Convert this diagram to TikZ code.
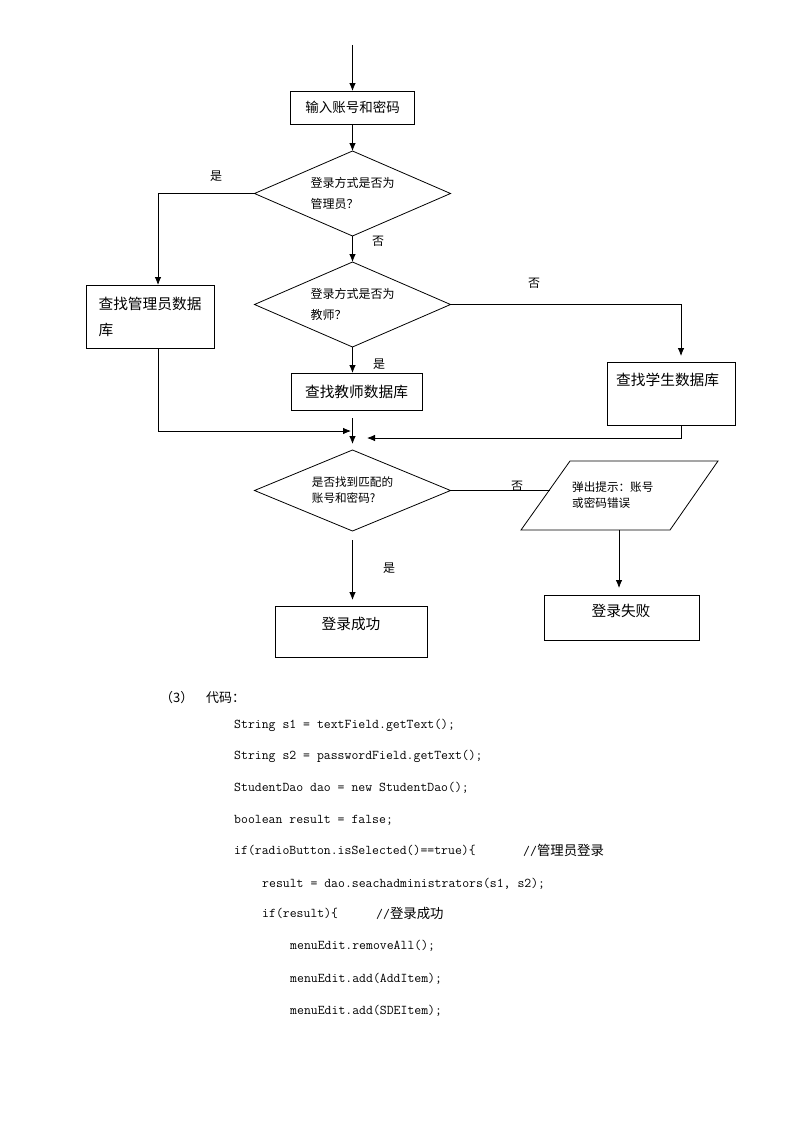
\documentclass[tikz,border=0pt]{standalone}
\usepackage{fontspec}
\newfontfamily\cjk{Noto Sans CJK SC}
\usetikzlibrary{shapes.geometric,arrows.meta}
\begin{document}
\begin{tikzpicture}[x=1pt,y=-1pt,
  line/.style={draw, line width=0.8pt},
  arr/.style={line, -{Latex[length=8pt,width=6.5pt]}},
  box/.style={draw, line width=0.8pt, rectangle, inner sep=0pt, outer sep=0pt},
  dia/.style={draw, line width=0.8pt, diamond, aspect=2.3, inner sep=0pt, outer sep=0pt, minimum width=196pt, minimum height=85pt, align=left},
  lbl/.style={font=\cjk\fontsize{12}{14}\selectfont, inner sep=0pt},
  big/.style={font=\cjk\fontsize{14.7}{26}\selectfont, inner sep=0pt},
  code/.style={anchor=west, inner sep=0pt, font=\ttfamily\fontsize{13.4}{16}\selectfont},
  cmt/.style={anchor=west, inner sep=0pt, font=\cjk\fontsize{13.4}{16}\selectfont},
]
\useasboundingbox[fill=white] (0,0) rectangle (800,1132);

% nodes
\coordinate (start) at (352.5,45);
\node[box, minimum width=124pt, minimum height=33pt, font=\cjk\fontsize{13.5}{16}\selectfont] (input) at (352.5,107.5) {输入账号和密码};
\node[dia, font=\cjk\fontsize{12}{21}\selectfont] (d1) at (352.5,193.5) {登录方式是否为\\管理员？};
\node[dia, font=\cjk\fontsize{12}{21}\selectfont] (d2) at (352.5,304.5) {登录方式是否为\\教师？};
\node[box, big, align=left, minimum width=128pt, minimum height=63pt] (admin) at (150,316.5) {查找管理员数据\\库};
\coordinate (adminTop) at (158,285);
\coordinate (adminBot) at (158,348);
\node[box, big, minimum width=131pt, minimum height=37pt] (teacher) at (356.5,391.5) {查找教师数据库};
\node[box, minimum width=128pt, minimum height=63pt] (student) at (671,393.5) {};
\coordinate (studentTop) at (681,362);
\coordinate (studentBot) at (681,425);
\node[big, anchor=west] (studenttxt) at (616,380) {查找学生数据库};
\coordinate (mL) at (351,431);
\coordinate (mR) at (367,438);
\node[dia, minimum height=81pt, font=\cjk\fontsize{11.6}{16}\selectfont] (d3) at (352.5,490.5) {是否找到匹配的\\账号和密码?};
\coordinate (p1) at (570,461);
\coordinate (p2) at (718,461);
\coordinate (p3) at (670,530);
\coordinate (p4) at (521,530);
\draw[line] (p1) -- (p2) -- (p3) -- (p4) -- cycle;
\coordinate (pL) at (549.5,490.5);
\coordinate (pB) at (619,530);
\node[anchor=west, align=left, inner sep=0pt, font=\cjk\fontsize{11.6}{16}\selectfont] (msg) at (572,495) {弹出提示：账号\\或密码错误};
\node[box, minimum width=152pt, minimum height=51pt] (ok) at (351,631.5) {};
\node[big] (oktxt) at (351,624) {登录成功};
\node[box, minimum width=155pt, minimum height=45pt] (fail) at (621.5,617.5) {};
\node[big] (failtxt) at (621,611) {登录失败};

% labels
\node[lbl] (y1) at (216,176) {是};
\node[lbl] (n1) at (378,241) {否};
\node[lbl] (n2) at (534,283) {否};
\node[lbl] (y2) at (379,364) {是};
\node[lbl] (y3) at (389,568) {是};
\node[lbl] (n3) at (517,486) {否};

% connectors
\draw[arr] (start) -- (input.north);
\draw[arr] (input.south) -- (d1.north);
\draw[arr] (d1.west) -| (adminTop);
\draw[arr] (d1.south) -- (d2.north);
\draw[arr] (d2.south) -- (d2.south |- teacher.north);
\draw[arr, shorten >=6pt] (d2.east) -| (studentTop);
\draw[arr] (adminBot) |- (mL);
\draw[arr] (studentBot) |- (mR);
\draw[arr, shorten <=8pt, shorten >=6pt] (d3.north |- teacher.south) -- (d3.north);
\draw[line] (d3.east) -- (pL);
\draw[arr, shorten >=7pt] (pB) -- (pB |- fail.north);
\draw[arr, shorten <=9pt, shorten >=6pt] (d3.south) -- (d3.south |- ok.north);

% code text
\node[anchor=west, inner sep=0pt, font=\cjk\fontsize{13}{16}\selectfont] (sec) at (160,698) {（3）};
\node[anchor=west, inner sep=0pt, font=\cjk\fontsize{13}{16}\selectfont] (sectitle) at (206,698) {代码：};
\node[code] (c1) at (234,725) {String s1 = textField.getText();};
\node[code] (c2) at (234,756) {String s2 = passwordField.getText();};
\node[code] (c3) at (234,788) {StudentDao dao = new StudentDao();};
\node[code] (c4) at (234,820) {boolean result = false;};
\node[code] (c5) at (234,850) {if(radioButton.isSelected()==true)\{};
\node[cmt] (c5c) at (523,850) {{\ttfamily //}管理员登录};
\node[code] (c6) at (262,884) {result = dao.seachadministrators(s1, s2);};
\node[code] (c7) at (262,913) {if(result)\{};
\node[cmt] (c7c) at (376,913) {{\ttfamily //}登录成功};
\node[code] (c8) at (290,946) {menuEdit.removeAll();};
\node[code] (c9) at (290,979) {menuEdit.add(AddItem);};
\node[code] (c10) at (290,1011) {menuEdit.add(SDEItem);};
\end{tikzpicture}
\end{document}
